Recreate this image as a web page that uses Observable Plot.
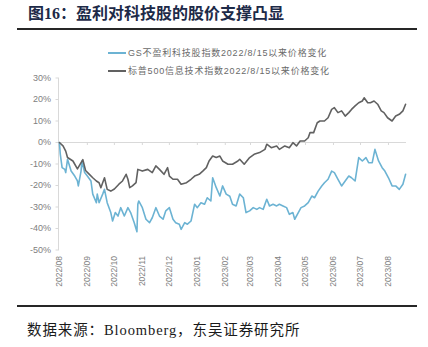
<!DOCTYPE html>
<html><head><meta charset="utf-8">
<script src="https://cdn.jsdelivr.net/npm/d3@7"></script>
<script src="https://cdn.jsdelivr.net/npm/@observablehq/plot@0.6"></script>
<style>
html,body{margin:0;padding:0;background:#fff;}
body{width:428px;height:347px;position:relative;overflow:hidden;}
#chart{position:absolute;left:0;top:0;}
#title{position:absolute;left:28px;top:6px;font:bold 16px/16px "Liberation Serif","Noto Sans CJK SC",serif;color:#1d2a48;white-space:nowrap;}
.rule{position:absolute;left:17px;width:400px;height:2px;background:#262626;}
.leg{position:absolute;left:108px;font:9px/10px "Liberation Sans","Noto Sans CJK SC",sans-serif;color:#6a6a6a;letter-spacing:0.8px;white-space:nowrap;display:flex;align-items:center;}
.leg i{display:inline-block;width:18px;height:2px;margin-right:2px;}
#src{position:absolute;left:27px;top:322px;font:14.5px/16px "Liberation Serif","Noto Sans CJK SC",serif;color:#1a1a1a;white-space:nowrap;letter-spacing:0.9px;}
</style></head>
<body>
<div id="chart"></div>
<div id="title">图16：盈利对科技股的股价支撑凸显</div>
<div class="rule" style="top:28px"></div>
<div class="leg" id="leg1" style="top:48px"><i style="background:#6cb3d3"></i><span id="l1"></span></div>
<div class="leg" id="leg2" style="top:66px"><i style="background:#616161"></i><span id="l2"></span></div>
<div class="rule" style="top:305px"></div>
<div id="src">数据来源：Bloomberg，东吴证券研究所</div>
<script>
const seriesNames = ["GS不盈利科技股指数2022/8/15以来价格变化", "标普500信息技术指数2022/8/15以来价格变化"];
const seriesColors = ["#6cb3d3", "#616161"];

const tickDates = ["2022-08-15","2022-09-15","2022-10-15","2022-11-15","2022-12-15","2023-01-15","2023-02-15","2023-03-15","2023-04-15","2023-05-15","2023-06-15","2023-07-15","2023-08-15"];
const tickLabels = ["2022/08","2022/09","2022/10","2022/11","2022/12","2023/01","2023/02","2023/03","2023/04","2023/05","2023/06","2023/07","2023/08"];
const yTicks = [-50,-40,-30,-20,-10,0,10,20,30];

const gsDates = ["2022-08-15","2022-08-16","2022-08-18","2022-08-21","2022-08-22","2022-08-24","2022-08-28","2022-09-01","2022-09-04","2022-09-05","2022-09-08","2022-09-09","2022-09-12","2022-09-15","2022-09-19","2022-09-21","2022-09-25","2022-09-26","2022-09-28","2022-10-02","2022-10-04","2022-10-07","2022-10-11","2022-10-13","2022-10-16","2022-10-19","2022-10-22","2022-10-26","2022-10-30","2022-11-02","2022-11-06","2022-11-09","2022-11-10","2022-11-11","2022-11-15","2022-11-19","2022-11-23","2022-11-26","2022-11-30","2022-12-04","2022-12-08","2022-12-11","2022-12-15","2022-12-19","2022-12-22","2022-12-26","2022-12-28","2023-01-01","2023-01-04","2023-01-08","2023-01-12","2023-01-15","2023-01-19","2023-01-23","2023-01-26","2023-01-30","2023-02-01","2023-02-05","2023-02-09","2023-02-12","2023-02-16","2023-02-20","2023-02-23","2023-02-27","2023-03-03","2023-03-07","2023-03-10","2023-03-14","2023-03-18","2023-03-22","2023-03-25","2023-03-29","2023-04-02","2023-04-05","2023-04-09","2023-04-13","2023-04-16","2023-04-20","2023-04-24","2023-04-27","2023-05-01","2023-05-03","2023-05-07","2023-05-10","2023-05-14","2023-05-18","2023-05-22","2023-05-25","2023-05-29","2023-06-02","2023-06-05","2023-06-09","2023-06-13","2023-06-16","2023-06-20","2023-06-24","2023-06-28","2023-07-02","2023-07-05","2023-07-09","2023-07-13","2023-07-17","2023-07-21","2023-07-24","2023-07-28","2023-07-31","2023-08-04","2023-08-08","2023-08-11","2023-08-15","2023-08-19","2023-08-23","2023-08-27","2023-08-31","2023-09-03"];
const gsValues = [0,-5.5,-11.7,-12.5,-14,-7.8,-13.3,-15.6,-17.9,-20.2,-13.3,-8.6,-14,-15.6,-17.9,-24,-28,-24,-28,-24,-21.8,-28,-32.6,-36.5,-32.6,-34.2,-30.3,-34.2,-30.3,-32.6,-37.3,-41.5,-28.7,-27.2,-30.3,-35.7,-37.3,-35,-30.3,-34.2,-35.7,-31.8,-30.3,-35.7,-37.3,-38,-40.4,-37.3,-38,-36.5,-28.7,-30.3,-28,-28.7,-25.7,-27.2,-16.4,-21,-24.9,-20.2,-24,-25,-28.7,-29.5,-24,-25.7,-32.6,-31.8,-30.3,-31.1,-30.3,-31.1,-26.4,-29.5,-28.7,-29.5,-28.7,-29.5,-30.3,-33.4,-32.6,-35.7,-32.6,-30.3,-29.5,-28,-24.9,-25.7,-22.6,-20.2,-18.7,-17.1,-13.3,-14,-17.1,-20.2,-17.9,-15.6,-16.4,-17.9,-7,-8.6,-7,-9.4,-9.4,-3.2,-8.6,-11.7,-13.3,-16.4,-20.2,-20.2,-21.8,-19.4,-14.8];

const spxDates = ["2022-08-15","2022-08-19","2022-08-22","2022-08-24","2022-08-30","2022-09-04","2022-09-10","2022-09-13","2022-09-17","2022-09-21","2022-09-25","2022-09-28","2022-09-30","2022-10-04","2022-10-07","2022-10-11","2022-10-15","2022-10-20","2022-10-24","2022-10-28","2022-10-30","2022-11-01","2022-11-04","2022-11-08","2022-11-10","2022-11-15","2022-11-21","2022-11-26","2022-11-30","2022-12-04","2022-12-09","2022-12-13","2022-12-15","2022-12-19","2022-12-24","2022-12-28","2023-01-03","2023-01-08","2023-01-12","2023-01-17","2023-01-21","2023-01-25","2023-01-28","2023-02-01","2023-02-05","2023-02-09","2023-02-12","2023-02-18","2023-02-23","2023-03-01","2023-03-03","2023-03-08","2023-03-14","2023-03-19","2023-03-25","2023-03-31","2023-04-02","2023-04-07","2023-04-13","2023-04-16","2023-04-22","2023-04-27","2023-05-01","2023-05-05","2023-05-09","2023-05-14","2023-05-18","2023-05-20","2023-05-24","2023-05-28","2023-05-31","2023-06-05","2023-06-09","2023-06-13","2023-06-16","2023-06-20","2023-06-24","2023-06-28","2023-07-02","2023-07-05","2023-07-09","2023-07-13","2023-07-17","2023-07-19","2023-07-23","2023-07-26","2023-07-30","2023-08-03","2023-08-07","2023-08-10","2023-08-14","2023-08-19","2023-08-23","2023-08-27","2023-08-31","2023-09-03"];
const spxValues = [0,-1.6,-4,-7,-8.6,-12.3,-8,-13,-14.7,-16.4,-17.9,-18.7,-21,-16.4,-21.8,-22.6,-21.6,-19.4,-17.9,-14.8,-17.1,-21,-20.2,-18.7,-12.5,-13.3,-12.5,-14,-10.9,-12.5,-14.8,-11.7,-15.6,-17.1,-17.1,-19.4,-18.7,-17.1,-15.6,-14.8,-13.3,-11.7,-8.6,-6.3,-7,-6.3,-8.6,-10.1,-10.1,-8.6,-7.8,-10.1,-7,-5.5,-4.7,-3.2,-0.8,-2.4,-1.6,-3.2,-1.6,-2.4,-0.1,-1.6,0.7,0.7,2.2,4.6,4.6,9.2,10,10,11.5,15.4,16.2,13.9,14.7,12.3,13.9,15.4,17,18.5,19.3,20.8,18.5,18.5,19.3,17.8,14.7,13.9,11.5,10,12.3,13.1,14.7,17.8];

document.getElementById("l1").textContent = seriesNames[0];
document.getElementById("l2").textContent = seriesNames[1];

const gs = gsDates.map((d, i) => ({date: new Date(d), value: gsValues[i]}));
const spx = spxDates.map((d, i) => ({date: new Date(d), value: spxValues[i]}));
const ticks = tickDates.map(d => new Date(d));
const labelOf = new Map(ticks.map((t, i) => [+t, tickLabels[i]]));

const chart = Plot.plot({
  width: 428,
  height: 347,
  marginLeft: 58,
  marginRight: 22,
  marginTop: 77.5,
  marginBottom: 97.5,
  style: {fontFamily: "Liberation Sans, Arial, sans-serif", background: "transparent"},
  x: {type: "utc", domain: [new Date("2022-08-14"), new Date("2023-09-04")]},
  y: {domain: [-50, 30]},
  marks: [
    Plot.frame({anchor: "left", stroke: "#d9d9d9"}),
    Plot.ruleY([0], {stroke: "#d9d9d9"}),
    Plot.ruleX(ticks, {x: d => d, y1: 0, y2: -1.4, stroke: "#d9d9d9"}),
    Plot.axisY({ticks: yTicks, tickFormat: d => d + "%", tickSize: 2.5, tickPadding: 5, stroke: "#d9d9d9", color: "#808080", fontSize: 9, label: null}),
    Plot.axisX({ticks: ticks, tickFormat: d => labelOf.get(+d), tickRotate: -90, tickSize: 0, tickPadding: 6, color: "#808080", fontSize: 8.5, fontFamily: "Liberation Sans Narrow, Arial Narrow, Liberation Sans, sans-serif", label: null}),
    Plot.line(gs, {x: "date", y: "value", stroke: seriesColors[0], strokeWidth: 1.6}),
    Plot.line(spx, {x: "date", y: "value", stroke: seriesColors[1], strokeWidth: 1.6})
  ]
});
document.getElementById("chart").appendChild(chart);
</script>
</body></html>
